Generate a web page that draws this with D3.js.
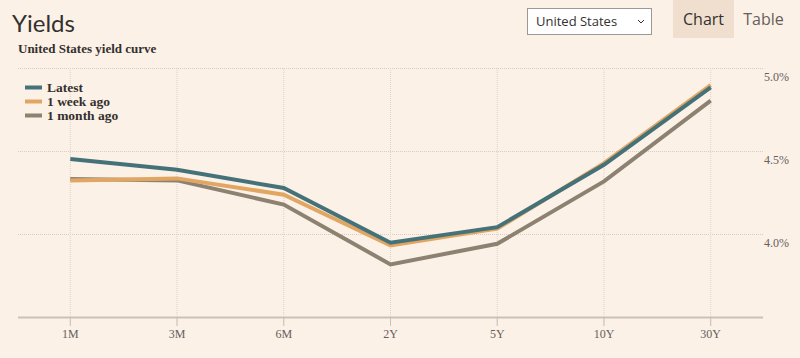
<!DOCTYPE html>
<html><head><meta charset="utf-8">
<script src="https://cdn.jsdelivr.net/npm/d3@7"></script>
<style>
html,body{margin:0;padding:0;background:#fcf1e7;}
svg{display:block;}
</style></head><body>
<svg id="c" width="800" height="358"></svg>
<script>
const categories = ["1M","3M","6M","2Y","5Y","10Y","30Y"];
const latest     = [4.455, 4.39, 4.28, 3.95, 4.044, 4.42, 4.886];
const weekAgo    = [4.325, 4.338, 4.24, 3.934, 4.035, 4.43, 4.90];
const monthAgo   = [4.335, 4.326, 4.18, 3.82, 3.944, 4.32, 4.806];
const yTicks     = [3.5, 4.0, 4.5, 5.0];
const seriesNames = ["Latest","1 week ago","1 month ago"];
const colors = ["#457279","#e2a663","#8d8271"];

const serif = "'Liberation Serif', 'DejaVu Serif', serif";
const sans = "'Open Sans', 'Noto Sans', sans-serif";
const svg = d3.select("#c");
const W = 800, H = 358;
svg.append("rect").attr("width",W).attr("height",H).attr("fill","#fcf1e7");

// header
svg.append("text").attr("x",12).attr("y",32).text("Yields")
  .attr("font-family","Lato, 'Open Sans', sans-serif").attr("font-size",24).attr("fill","#33302e");
svg.append("text").attr("x",18).attr("y",53).text("United States yield curve")
  .attr("font-family",serif).attr("font-weight","bold")
  .attr("font-size",13).attr("fill","#33302e");

// dropdown
svg.append("rect").attr("x",527.5).attr("y",8.5).attr("width",124).attr("height",26)
  .attr("fill","#ffffff").attr("stroke","#9b9895").attr("stroke-width",1);
svg.append("text").attr("x",536).attr("y",26).text("United States")
  .attr("font-family",sans).attr("font-size",13).attr("fill","#33302e");
svg.append("path").attr("d","M638,20 L641,23 L644,20").attr("fill","none").attr("stroke","#33302e").attr("stroke-width",1);

// tabs
svg.append("rect").attr("x",673).attr("y",0).attr("width",61).attr("height",38).attr("fill","#f0dfcf");
svg.append("text").attr("x",703.5).attr("y",25).attr("text-anchor","middle").text("Chart")
  .attr("font-family",sans).attr("font-size",16).attr("font-weight",500).attr("fill","#33302e");
svg.append("text").attr("x",763.5).attr("y",25).attr("text-anchor","middle").text("Table")
  .attr("font-family",sans).attr("font-size",16).attr("fill","#66605c");

// scales
const x = d3.scalePoint().domain(categories).range([18,763]).padding(0.49);
const y = d3.scaleLinear().domain([3.5,5.0]).range([317.5,68.5]);

const g = svg.append("g");
// horizontal dotted grid
g.selectAll("line.h").data(yTicks.filter(d=>d>3.5)).join("line")
  .attr("x1",18).attr("x2",763).attr("y1",d=>y(d)).attr("y2",d=>y(d))
  .attr("stroke","#d6cdc4").attr("stroke-width",1).attr("stroke-dasharray","1,1");
// vertical grid
g.selectAll("line.v").data(categories).join("line")
  .attr("x1",d=>x(d)).attr("x2",d=>x(d)).attr("y1",68).attr("y2",326)
  .attr("stroke","#dcd3ca").attr("stroke-width",1).attr("stroke-dasharray","1,1");
// tick marks below baseline (solid)
g.selectAll("line.t").data(categories).join("line")
  .attr("x1",d=>x(d)).attr("x2",d=>x(d)).attr("y1",318).attr("y2",326)
  .attr("stroke","#c9c0b6").attr("stroke-width",1);
// baseline
g.append("line").attr("x1",18).attr("x2",763).attr("y1",y(3.5)).attr("y2",y(3.5))
  .attr("stroke","#cbc1b6").attr("stroke-width",2);

// x labels
g.selectAll("text.x").data(categories).join("text")
  .attr("x",d=>x(d)).attr("y",338).attr("text-anchor","middle").text(d=>d)
  .attr("font-family",serif).attr("font-size",12).attr("fill","#66605c");
// y labels
g.selectAll("text.y").data(yTicks.filter(d=>d>3.5)).join("text")
  .attr("x",764).attr("y",d=>y(d)+12).text(d=>d3.format(".1f")(d)+"%")
  .attr("font-family",serif).attr("font-size",12).attr("fill","#66605c");

// lines (draw month, week, latest)
const data = [latest, weekAgo, monthAgo];
const line = d3.line().x((d,i)=>x(categories[i])).y(d=>y(d));
[2,1,0].forEach(k=>{
  g.append("path").datum(data[k]).attr("d",line).attr("fill","none")
    .attr("stroke",colors[k]).attr("stroke-width",4).attr("stroke-linejoin","miter");
});

// legend
const lg = svg.append("g");
seriesNames.forEach((n,i)=>{
  const yy = 87.5 + i*14;
  lg.append("line").attr("x1",25).attr("x2",42).attr("y1",yy).attr("y2",yy)
    .attr("stroke",colors[i]).attr("stroke-width",4);
  lg.append("text").attr("x",47).attr("y",yy+4.5).text(n)
    .attr("font-family",serif).attr("font-weight","bold")
    .attr("font-size",13.5).attr("fill","#33302e");
});
</script>
</body></html>
